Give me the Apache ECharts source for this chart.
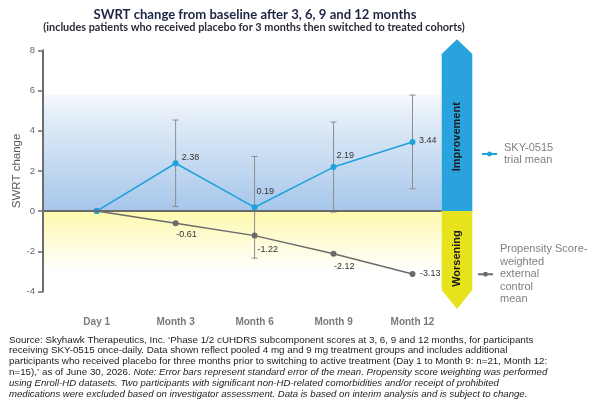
<!DOCTYPE html>
<html>
<head>
<meta charset="utf-8">
<script src="https://cdn.jsdelivr.net/npm/echarts@6/dist/echarts.min.js"></script>
<style>
html,body{margin:0;padding:0;background:#fff;}
#c{width:599px;height:412px;}
</style>
</head>
<body>
<div id="c"></div>
<script>
// ---- data ----
const categories = ['Day 1', 'Month 3', 'Month 6', 'Month 9', 'Month 12'];
const skyMean = [0, 2.38, 0.19, 2.19, 3.44];
const skySE = [null, 2.15, 2.53, 2.24, 2.33];
const controlMean = [0, -0.61, -1.22, -2.12, -3.13];
const yTicks = { min: -4, max: 8, step: 2 };
const skyName = 'SKY-0515 trial mean';
const ctrlName = 'Propensity Score-weighted external control mean';
const titleText = 'SWRT change from baseline after 3, 6, 9 and 12 months';
const subtitleText = '(includes patients who received placebo for 3 months then switched to treated cohorts)';
const yAxisName = 'SWRT change';
const improvementText = 'Improvement';
const worseningText = 'Worsening';

// ---- styling (not data) ----
const XMIN = -0.68, XMAX = 4.37;
const skyLabelOffsets = [null, [3, -5.5], [-1, -15.5], [0, -12], [3.5, -1]];
const ctrlLabelOffsets = [null, [-2.5, 11], [0, 14], [-2.5, 13], [4.5, 0]];
const BLUE = '#1fa2db', GREY = '#6b6b6b';

function lineData(vals, offsets, labelColor) {
  return vals.map((v, i) => ({
    value: [i, v],
    label: offsets[i] ? {
      show: true, position: 'right', distance: 0, offset: offsets[i],
      formatter: (p) => p.value[1].toFixed(2),
      color: labelColor, fontSize: 9, fontFamily: 'Liberation Sans'
    } : { show: false }
  }));
}

const errData = skyMean.map((m, i) => skySE[i] == null ? null : [i, m - skySE[i], m + skySE[i]]).filter(Boolean);

const sourceText =
  "Source: Skyhawk Therapeutics, Inc. \u2018Phase 1/2 cUHDRS subcomponent scores at 3, 6, 9 and 12 months, for participants\n" +
  "receiving SKY-0515 once-daily. Data shown reflect pooled 4 mg and 9 mg treatment groups and includes additional\n" +
  "participants who received placebo for three months prior to switching to active treatment (Day 1 to Month 9: n=21, Month 12:\n" +
  "n=15),\u2019 as of June 30, 2026. {i|Note: Error bars represent standard error of the mean. Propensity score weighting was performed}\n" +
  "{i|using Enroll-HD datasets. Two participants with significant non-HD-related comorbidities and/or receipt of prohibited}\n" +
  "{i|medications were excluded based on investigator assessment. Data is based on interim analysis and is subject to change.}";

const chart = echarts.init(document.getElementById('c'), null, { renderer: 'canvas' });

const option = {
  animation: false,
  backgroundColor: '#ffffff',
  title: [
    { text: titleText, left: 255, top: 7, padding: 0, textAlign: 'center',
      textStyle: { fontFamily: 'Lato', fontWeight: 'bold', fontSize: 13.1, color: '#1f2545', lineHeight: 15 } },
    { text: subtitleText, left: 254, top: 21.5, padding: 0, textAlign: 'center',
      textStyle: { fontFamily: 'Lato', fontWeight: 'bold', fontSize: 10.9, color: '#2a2d3a', lineHeight: 12 } },
    { text: sourceText, left: 9, top: 334.5, padding: 0, textAlign: 'left',
      textStyle: { fontFamily: 'Liberation Sans', fontWeight: 'normal', fontSize: 9.8, color: '#222', lineHeight: 10.8,
        rich: { i: { fontFamily: 'Liberation Sans', fontStyle: 'italic', fontSize: 9.6, color: '#222', lineHeight: 10.8 } } } }
  ],
  grid: { left: 43, right: 157.3, top: 50.3, bottom: 120.5, containLabel: false },
  xAxis: {
    type: 'value', min: XMIN, max: XMAX,
    axisLine: { show: false, onZero: false }, axisTick: { show: false }, splitLine: { show: false },
    axisLabel: {
      customValues: categories.map((c, i) => i),
      formatter: (v) => (Number.isInteger(v) && categories[v] !== undefined) ? categories[v] : '',
      fontFamily: 'Liberation Sans', fontWeight: 'bold', fontSize: 10, color: '#7a7a7a', margin: 25.5
    }
  },
  yAxis: {
    type: 'value', min: yTicks.min, max: yTicks.max, interval: yTicks.step, z: 10,
    name: yAxisName, nameLocation: 'middle', nameGap: 20, nameRotate: 90, nameMoveOverlap: false,
    nameTextStyle: { fontFamily: 'Liberation Sans', fontSize: 11.5, color: '#5a5a5a' },
    axisLine: { show: true, onZero: false, lineStyle: { color: '#6e6e6e', width: 2 } },
    axisTick: { show: true, length: 5, lineStyle: { color: '#6e6e6e', width: 1.5 } },
    splitLine: { show: false },
    axisLabel: { fontFamily: 'Liberation Sans', fontSize: 9.5, color: '#666', margin: 8 }
  },
  legend: [
    { data: [skyName], left: 481, top: 141.5, padding: 0, itemWidth: 15, itemHeight: 6, selectedMode: false,
      formatter: () => 'SKY-0515\ntrial mean',
      textStyle: { fontFamily: 'Liberation Sans', fontSize: 11, color: '#808080', lineHeight: 12.5, padding: [0, 0, 0, 2] } },
    { data: [ctrlName], left: 477, top: 243, padding: 0, itemWidth: 15, itemHeight: 6, selectedMode: false,
      formatter: () => 'Propensity Score-\nweighted\nexternal\ncontrol\nmean',
      textStyle: { fontFamily: 'Liberation Sans', fontSize: 11, color: '#808080', lineHeight: 12.5, padding: [0, 0, 0, 2] } }
  ],
  series: [
    { type: 'line', name: 'bg', data: [], z: 0, silent: true,
      markArea: { silent: true, data: [
        [ { xAxis: XMIN, yAxis: 0, itemStyle: { color: new echarts.graphic.LinearGradient(0, 0, 0, 1, [
              { offset: 0, color: 'rgba(238,244,251,0.6)' }, { offset: 0.15, color: '#e6eff9' }, { offset: 1, color: '#a6c6ea' }]) } },
          { xAxis: XMAX, yAxis: 5.8 } ],
        [ { xAxis: XMIN, yAxis: 0, itemStyle: { color: new echarts.graphic.LinearGradient(0, 0, 0, 1, [
              { offset: 0, color: '#fdf9ae' }, { offset: 0.75, color: '#ffffff' }, { offset: 1, color: '#ffffff' }]) } },
          { xAxis: XMAX, yAxis: -4 } ]
      ] } },
    { type: 'line', name: 'zero', data: [], z: 1, silent: true,
      markLine: { silent: true, symbol: ['none', 'none'], label: { show: false },
        lineStyle: { color: '#6a6a6a', width: 2, type: 'solid' },
        data: [ { yAxis: 0 } ] } },
    { type: 'custom', name: 'err', z: 2, silent: true,
      encode: { x: 0, y: [1, 2] },
      data: errData,
      renderItem: function (params, api) {
        const x = api.value(0);
        const lo = api.coord([x, api.value(1)]);
        const hi = api.coord([x, api.value(2)]);
        const w = 3;
        const st = { stroke: '#8c8c8c', lineWidth: 1 };
        return { type: 'group', children: [
          { type: 'line', shape: { x1: lo[0], y1: lo[1], x2: hi[0], y2: hi[1] }, style: st },
          { type: 'line', shape: { x1: lo[0] - w, y1: lo[1], x2: lo[0] + w, y2: lo[1] }, style: st },
          { type: 'line', shape: { x1: hi[0] - w, y1: hi[1], x2: hi[0] + w, y2: hi[1] }, style: st }
        ] };
      } },
    { type: 'line', name: skyName, z: 4, data: lineData(skyMean, skyLabelOffsets, '#333'),
      symbol: 'circle', symbolSize: 6, color: BLUE,
      lineStyle: { color: BLUE, width: 1.5 }, itemStyle: { color: BLUE } },
    { type: 'line', name: ctrlName, z: 3, data: lineData(controlMean, ctrlLabelOffsets, '#333'),
      symbol: 'circle', symbolSize: 6, color: GREY,
      lineStyle: { color: GREY, width: 1.5 }, itemStyle: { color: GREY } }
  ]
};

chart.setOption(option);

// ---- side arrow (Improvement / Worsening), anchored to the axes ----
const pZero = chart.convertToPixel({ gridIndex: 0 }, [XMAX, 0]);
const pTop = chart.convertToPixel({ gridIndex: 0 }, [XMAX, yTicks.max]);
const pBot = chart.convertToPixel({ gridIndex: 0 }, [XMAX, yTicks.min]);
const pImp = chart.convertToPixel({ gridIndex: 0 }, [XMAX, 3.7]);
const pWor = chart.convertToPixel({ gridIndex: 0 }, [XMAX, -2.36]);
const x0 = pZero[0], x1 = x0 + 30.6, xc = (x0 + x1) / 2;
const yTip = pTop[1] - 11, yShoulder = yTip + 14.7;
const yBotShoulder = pBot[1] - 1.5, yBotTip = yBotShoulder + 19;

chart.setOption({
  graphic: [
    { type: 'polygon', z: 10, silent: true,
      shape: { points: [[x0, yShoulder], [xc, yTip], [x1, yShoulder], [x1, pZero[1]], [x0, pZero[1]]] },
      style: { fill: '#29a3dd' } },
    { type: 'polygon', z: 10, silent: true,
      shape: { points: [[x0, pZero[1]], [x1, pZero[1]], [x1, yBotShoulder], [xc, yBotTip], [x0, yBotShoulder]] },
      style: { fill: '#e6e21c' } },
    { type: 'text', z: 11, silent: true, x: xc, y: pImp[1], rotation: Math.PI / 2,
      style: { text: improvementText, align: 'center', verticalAlign: 'middle',
        font: 'bold 11px "Liberation Sans"', fill: '#1a1a1a' } },
    { type: 'text', z: 11, silent: true, x: xc, y: pWor[1], rotation: Math.PI / 2,
      style: { text: worseningText, align: 'center', verticalAlign: 'middle',
        font: 'bold 11px "Liberation Sans"', fill: '#1a1a1a' } }
  ]
});
</script>
</body>
</html>
